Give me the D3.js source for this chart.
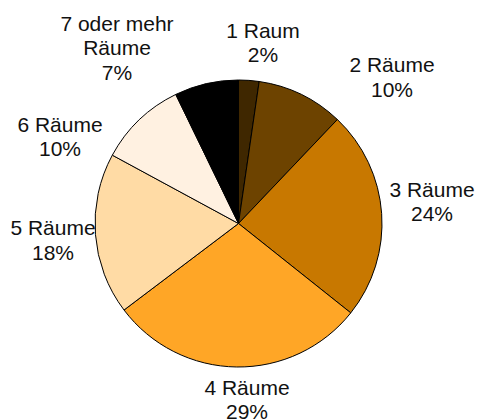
<!DOCTYPE html>
<html>
<head>
    <meta charset="utf-8">
    <title>Räume</title>
    <script src="https://d3js.org/d3.v7.min.js"></script>
    <style>
        body { margin: 0; background: #fff; }
    </style>
</head>
<body>
<div id="chart"></div>
<script type="text/javascript">

    // Kategorien und Anteile (in %, aus dem Bild geschätzt)
    let categories = ["1 Raum", "2 Räume", "3 Räume", "4 Räume", "5 Räume", "6 Räume", "7 oder mehr Räume"];
    let values = [2.3, 9.8, 23.6, 29.0, 18.2, 9.9, 7.2];
    let colors = ["#3f2700", "#6d4300", "#c87800", "#ffa626", "#ffdba5", "#fff1e1", "#000000"];

    // Beschriftungszeilen je Kategorie
    let labelLines = [["1 Raum"], ["2 Räume"], ["3 Räume"], ["4 Räume"], ["5 Räume"], ["6 Räume"], ["7 oder mehr", "Räume"]];
    // Lage der Beschriftung relativ zum Kreismittelpunkt
    let labelPos = [[24.5, -181], [153.5, -146.5], [193.5, -22], [8.5, 176], [-185.5, 16.5], [-178.5, -87], [-121.5, -175.5]];

    let w = 478, h = 419;
    let cx = 238.5, cy = 223.5, r = 143.5;

    let svg = d3.select("#chart")
        .append("svg")
            .attr("width", w)
            .attr("height", h);

    let g = svg.append("g")
        .attr("transform", "translate(" + cx + "," + cy + ")");

    let pie = d3.pie().sort(null).value(function(d) { return d; });
    let arcs = pie(values);

    let arc = d3.arc().innerRadius(0).outerRadius(r);

    g.selectAll("path")
        .data(arcs)
        .enter()
        .append("path")
        .attr("d", arc)
        .attr("fill", function(d, i) { return colors[i]; })
        .attr("stroke", "#000")
        .attr("stroke-width", 1);

    // Beschriftungen
    let lineH = 24.5;
    arcs.forEach(function(d, i) {
        let x = labelPos[i][0];
        let y = labelPos[i][1];
        let lines = labelLines[i].concat([Math.round(values[i]) + "%"]);
        let top = y - (lines.length - 1) * lineH / 2;
        let t = g.append("text")
            .attr("text-anchor", "middle")
            .attr("font-family", "Liberation Sans, Arial, sans-serif")
            .attr("font-size", "21px")
            .attr("fill", "#111");
        lines.forEach(function(s, k) {
            t.append("tspan")
                .attr("x", x)
                .attr("y", top + k * lineH)
                .attr("dy", "0.35em")
                .text(s);
        });
    });

</script>
</body>
</html>
